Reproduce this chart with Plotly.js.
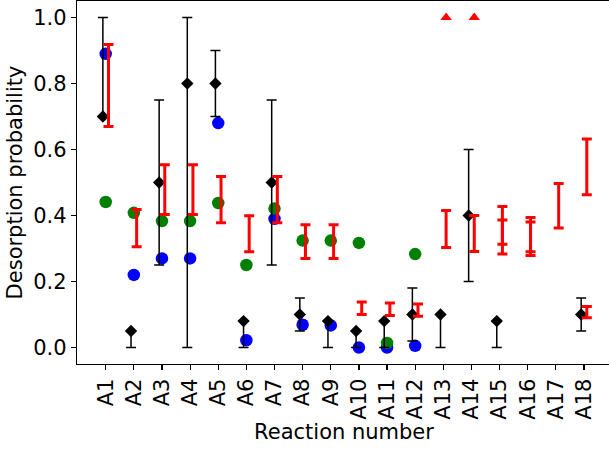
<!DOCTYPE html>
<html>
<head>
<meta charset="utf-8">
<script src="https://cdn.plot.ly/plotly-3.0.1.min.js"></script>
<style>
html,body{margin:0;padding:0;overflow:hidden;background:#fff;}
#chart{width:620px;height:449px;}
</style>
</head>
<body>
<div id="chart"></div>
<script>
const categories = ["A1","A2","A3","A4","A5","A6","A7","A8","A9","A10","A11","A12","A13","A14","A15","A16","A17","A18"];

// black diamonds with asymmetric error bars
const blackVal   = [0.70, 0.05, 0.50, 0.80, 0.80, 0.08, 0.50, 0.10, 0.08, 0.05, 0.08, 0.10, 0.10, 0.40, 0.08, null, null, 0.10];
const blackPlus  = [0.30, 0.00, 0.25, 0.20, 0.10, 0.00, 0.25, 0.05, 0.00, 0.00, 0.00, 0.08, 0.00, 0.20, 0.00, null, null, 0.05];
const blackMinus = [0.00, 0.05, 0.25, 0.80, 0.10, 0.08, 0.25, 0.05, 0.08, 0.05, 0.08, 0.08, 0.10, 0.20, 0.08, null, null, 0.05];

// blue circles
const blueVal  = [0.89, 0.22, 0.27, 0.27, 0.68, 0.022, 0.39, 0.069, 0.067, 0.0, 0.0, 0.005, null, null, null, null, null, null];
// green circles
const greenVal = [0.441, 0.408, 0.383, 0.383, 0.438, 0.25, 0.421, 0.324, 0.324, 0.317, 0.014, 0.283, null, null, null, null, null, null];

// red ranges (low / high)
const redLow   = [0.670, 0.305, 0.403, 0.403, 0.378, 0.290, 0.378, 0.270, 0.270, 0.100, 0.097, 0.095, 0.303, 0.291, 0.283, 0.279, 0.362, 0.463];
const redHigh  = [0.918, 0.418, 0.554, 0.554, 0.518, 0.399, 0.518, 0.372, 0.372, 0.138, 0.135, 0.132, 0.415, 0.400, 0.427, 0.394, 0.497, 0.632];
// second red ranges for some reactions
const red2Low  = [null, null, null, null, null, null, null, null, null, null, null, null, null, null, 0.313, 0.290, null, 0.090];
const red2High = [null, null, null, null, null, null, null, null, null, null, null, null, null, null, 0.386, 0.380, null, 0.124];

// red triangles (lower limits at 1.0)
const triVal = [null, null, null, null, null, null, null, null, null, null, null, null, 1.0, 1.0, null, null, null, null];

const idx = categories.map((c, i) => i);
const shift = (d) => idx.map(i => i + d);

function redTrace(lo, hi) {
  const mid = lo.map((v, i) => (v == null ? null : (v + hi[i]) / 2));
  const half = lo.map((v, i) => (v == null ? null : (hi[i] - v) / 2));
  return {
    type: 'scatter', mode: 'markers', x: shift(0.1), y: mid,
    marker: {size: 1, color: 'rgba(0,0,0,0)'},
    error_y: {type: 'data', array: half, visible: true, color: '#ff0000', thickness: 3, width: 5},
    showlegend: false, hoverinfo: 'skip'
  };
}

const traces = [
  {type: 'scatter', mode: 'markers', x: idx, y: blueVal,
   marker: {symbol: 'circle', size: 12.5, color: '#0000ff'}, showlegend: false},
  {type: 'scatter', mode: 'markers', x: idx, y: greenVal,
   marker: {symbol: 'circle', size: 12.5, color: '#008000'}, showlegend: false},
  {type: 'scatter', mode: 'markers', x: shift(-0.1), y: blackVal,
   marker: {symbol: 'diamond', size: 9.5, color: '#000000'},
   error_y: {type: 'data', symmetric: false, array: blackPlus, arrayminus: blackMinus,
             visible: true, color: '#000000', thickness: 1.5, width: 5},
   showlegend: false},
  redTrace(redLow, redHigh),
  redTrace(red2Low, red2High),
  {type: 'scatter', mode: 'markers', x: shift(0.1), y: triVal,
   marker: {symbol: 'triangle-up', size: 10, color: '#ff0000'}, showlegend: false}
];

const font = {family: 'DejaVu Sans', size: 21, color: '#000'};

const layout = {
  width: 620, height: 449,
  margin: {l: 77, r: 9, t: 1, b: 85},
  paper_bgcolor: '#fff', plot_bgcolor: '#fff',
  font: font,
  showlegend: false,
  xaxis: {
    range: [-1.02, 17.96],
    tickmode: 'array', tickvals: idx, ticktext: categories,
    tickangle: -90,
    ticks: 'outside', ticklen: 5, tickwidth: 1.2, tickcolor: '#000',
    showgrid: false, zeroline: false,
    showline: true, linecolor: '#000', linewidth: 1.2, mirror: true,
    tickfont: {family: 'DejaVu Sans', size: 21, color: '#000'},
    title: {text: 'Reaction number', font: font, standoff: 4}
  },
  yaxis: {
    range: [-0.05, 1.05],
    tickvals: [0, 0.2, 0.4, 0.6, 0.8, 1.0],
    tickformat: '.1f',
    ticks: 'outside', ticklen: 5, tickwidth: 1.2, tickcolor: '#000',
    showgrid: false, zeroline: false,
    showline: true, linecolor: '#000', linewidth: 1.2, mirror: true,
    tickfont: {family: 'DejaVu Sans', size: 21, color: '#000'},
    title: {text: 'Desorption probability', font: font, standoff: 4}
  }
};

Plotly.newPlot('chart', traces, layout, {displayModeBar: false, staticPlot: true});
</script>
</body>
</html>
